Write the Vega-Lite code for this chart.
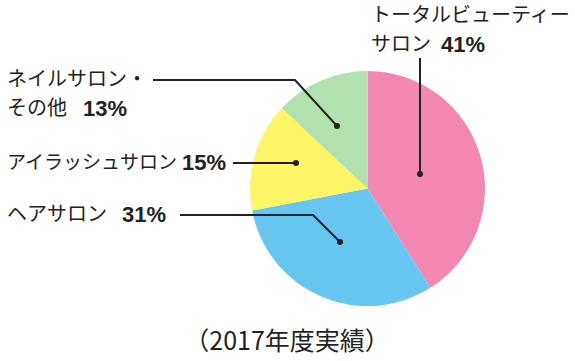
{
  "$schema": "https://vega.github.io/schema/vega-lite/v6.json",
  "width": 575,
  "height": 361,
  "autosize": {"type": "fit", "contains": "padding"},
  "padding": 0,
  "background": "white",
  "config": {"view": {"stroke": null}},
  "datasets": {
    "pie": [
      {"category": "トータルビューティーサロン", "value": 41, "order": 1},
      {"category": "ヘアサロン", "value": 31, "order": 2},
      {"category": "アイラッシュサロン", "value": 15, "order": 3},
      {"category": "ネイルサロン・その他", "value": 13, "order": 4}
    ],
    "leaders": [
      {"g": "pink", "i": 1, "x": 420, "y": 58},
      {"g": "pink", "i": 2, "x": 420, "y": 174},
      {"g": "green", "i": 1, "x": 153, "y": 80},
      {"g": "green", "i": 2, "x": 295, "y": 80},
      {"g": "green", "i": 3, "x": 337, "y": 126},
      {"g": "yellow", "i": 1, "x": 233, "y": 163},
      {"g": "yellow", "i": 2, "x": 296, "y": 163},
      {"g": "blue", "i": 1, "x": 180, "y": 215},
      {"g": "blue", "i": 2, "x": 313, "y": 215},
      {"g": "blue", "i": 3, "x": 340, "y": 242}
    ],
    "dots": [
      {"x": 420, "y": 174},
      {"x": 337, "y": 126},
      {"x": 296, "y": 163},
      {"x": 340, "y": 242}
    ],
    "labels": [
      {"text": "トータルビューティー", "x": 371, "y": 16},
      {"text": "サロン", "x": 371, "y": 45},
      {"text": "ネイルサロン・", "x": 7, "y": 80},
      {"text": "その他", "x": 7, "y": 109},
      {"text": "ヘアサロン", "x": 7, "y": 215}
    ],
    "labels2": [
      {"text": "アイラッシュサロン", "x": 7, "y": 163}
    ],
    "pcts": [
      {"text": "41%", "x": 441, "y": 45},
      {"text": "13%", "x": 83, "y": 109},
      {"text": "15%", "x": 182, "y": 163},
      {"text": "31%", "x": 122, "y": 215}
    ],
    "caption": [
      {"text": "（2017年度実績）", "x": 287, "y": 342}
    ]
  },
  "layer": [
    {
      "data": {"name": "pie"},
      "mark": {"type": "arc", "outerRadius": 117.5},
      "encoding": {
        "theta": {"field": "value", "type": "quantitative", "stack": true},
        "order": {"field": "order", "type": "quantitative"},
        "x": {"datum": 367.5, "type": "quantitative", "scale": {"domain": [0, 575]}, "axis": null},
        "y": {"datum": 188.5, "type": "quantitative", "scale": {"domain": [0, 361], "reverse": true}, "axis": null},
        "color": {
          "field": "category",
          "type": "nominal",
          "scale": {
            "domain": ["トータルビューティーサロン", "ヘアサロン", "アイラッシュサロン", "ネイルサロン・その他"],
            "range": ["#f287b1", "#66c6f0", "#fdf466", "#b0e1ae"]
          },
          "legend": null
        }
      }
    },
    {
      "data": {"name": "leaders"},
      "mark": {"type": "line", "color": "#222222", "strokeWidth": 2},
      "encoding": {
        "x": {"field": "x", "type": "quantitative", "scale": {"domain": [0, 575]}, "axis": null},
        "y": {"field": "y", "type": "quantitative", "scale": {"domain": [0, 361], "reverse": true}, "axis": null},
        "detail": {"field": "g", "type": "nominal"},
        "order": {"field": "i", "type": "quantitative"}
      }
    },
    {
      "data": {"name": "dots"},
      "mark": {"type": "circle", "color": "#222222", "opacity": 1, "size": 36},
      "encoding": {
        "x": {"field": "x", "type": "quantitative", "scale": {"domain": [0, 575]}, "axis": null},
        "y": {"field": "y", "type": "quantitative", "scale": {"domain": [0, 361], "reverse": true}, "axis": null}
      }
    },
    {
      "data": {"name": "labels"},
      "mark": {"type": "text", "align": "left", "baseline": "middle", "font": "Noto Sans CJK JP", "fontSize": 20, "color": "#222222"},
      "encoding": {
        "x": {"field": "x", "type": "quantitative", "scale": {"domain": [0, 575]}, "axis": null},
        "y": {"field": "y", "type": "quantitative", "scale": {"domain": [0, 361], "reverse": true}, "axis": null},
        "text": {"field": "text"}
      }
    },
    {
      "data": {"name": "labels2"},
      "mark": {"type": "text", "align": "left", "baseline": "middle", "font": "Noto Sans CJK JP", "fontSize": 19, "color": "#222222"},
      "encoding": {
        "x": {"field": "x", "type": "quantitative", "scale": {"domain": [0, 575]}, "axis": null},
        "y": {"field": "y", "type": "quantitative", "scale": {"domain": [0, 361], "reverse": true}, "axis": null},
        "text": {"field": "text"}
      }
    },
    {
      "data": {"name": "pcts"},
      "mark": {"type": "text", "align": "left", "baseline": "middle", "font": "Liberation Sans", "fontWeight": "bold", "fontSize": 22, "color": "#222222"},
      "encoding": {
        "x": {"field": "x", "type": "quantitative", "scale": {"domain": [0, 575]}, "axis": null},
        "y": {"field": "y", "type": "quantitative", "scale": {"domain": [0, 361], "reverse": true}, "axis": null},
        "text": {"field": "text"}
      }
    },
    {
      "data": {"name": "caption"},
      "mark": {"type": "text", "align": "center", "baseline": "middle", "font": "Noto Sans CJK JP", "fontSize": 25, "color": "#222222"},
      "encoding": {
        "x": {"field": "x", "type": "quantitative", "scale": {"domain": [0, 575]}, "axis": null},
        "y": {"field": "y", "type": "quantitative", "scale": {"domain": [0, 361], "reverse": true}, "axis": null},
        "text": {"field": "text"}
      }
    }
  ]
}
